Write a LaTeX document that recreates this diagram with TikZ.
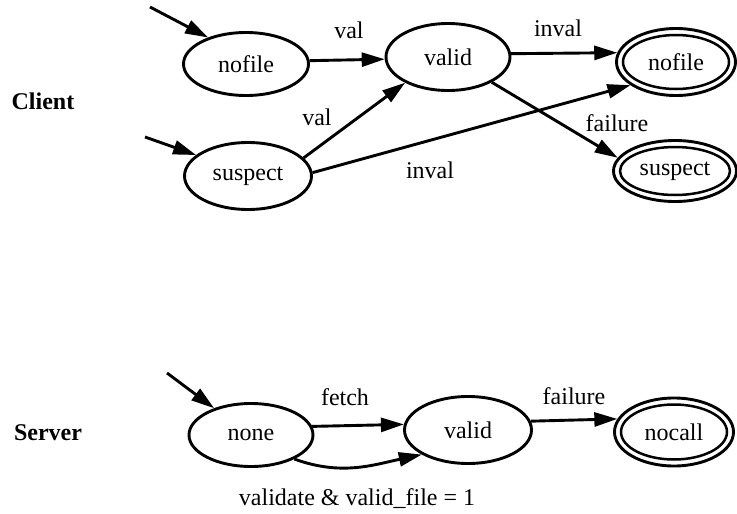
\documentclass[tikz,border=0pt]{standalone}
\usepackage{fontspec}
\setmainfont{Liberation Serif}
\usetikzlibrary{shapes.geometric,arrows.meta}
\begin{document}
\begin{tikzpicture}[x=1pt,y=1pt,
  every node/.style={font=\fontsize{24}{28}\selectfont},
  state/.style={ellipse, draw, line width=2.9pt, inner sep=0pt},
  inner/.style={ellipse, draw, line width=2.5pt, inner sep=0pt},
  lbl/.style={inner sep=0pt},
  group/.style={inner sep=0pt, font=\fontsize{24}{28}\selectfont\bfseries},
  edge/.style={line width=2.9pt, -{Triangle[length=23pt,width=14pt]}}]
\useasboundingbox (0,0) rectangle (737,-514);

% group labels
\node[group] (client) at (43,-101) {Client};
\node[group] (server) at (48,-433) {Server};

% client states
\node[state, minimum width=125pt, minimum height=63pt] (N1) at (246,-64) {nofile};
\node[state, minimum width=124pt, minimum height=67pt] (V1) at (448,-57) {valid};
\node[state, minimum width=127pt, minimum height=67pt] (S1) at (248,-176) {suspect};
\node[state, minimum width=119pt, minimum height=67pt] (F1) at (676,-62) {nofile};
\node[inner, minimum width=106pt, minimum height=54pt] (F1i) at (F1.center) {};
\node[state, minimum width=123pt, minimum height=61pt] (F2) at (675,-171) {suspect};
\node[inner, minimum width=110pt, minimum height=48pt] (F2i) at (F2.center) {};

% server states
\node[state, minimum width=124pt, minimum height=63pt] (NO) at (251,-435) {none};
\node[state, minimum width=127pt, minimum height=67pt] (V2) at (468,-430) {valid};
\node[state, minimum width=119pt, minimum height=68pt] (NC) at (674,-432) {nocall};
\node[inner, minimum width=106pt, minimum height=55pt] (NCi) at (NC.center) {};

% initial arrow starts
\coordinate (i1) at (150,-7);
\coordinate (i2) at (145,-137);
\coordinate (i3) at (167,-373);

% client connectors
\draw[edge] (i1) -- (N1.145);
\draw[edge] (i2) -- (S1.158);
\draw[edge] (N1.3.5) -- (V1.182.7);
\draw[edge] (S1.18) -- (V1.211);
\draw[edge] (S1.3.3) -- (F1.207);
\draw[edge] (V1.3.3) -- (F1.171.6);
\draw[edge] (V1.330) -- (F2.167);

% server connectors
\draw[edge] (i3) -- (NO.144.5);
\draw[edge] (NO.8.2) -- (V2.175.3);
\draw[edge] (NO.331.5) to[out=-20,in=192] (V2.208.5);
\draw[edge] (V2.8.9) -- (NC.167.5);

% edge labels
\node[lbl] (lv1) at (349,-30) {val};
\node[lbl] (lv2) at (317,-117) {val};
\node[lbl] (li1) at (558,-28) {inval};
\node[lbl] (lf1) at (617,-123) {failure};
\node[lbl] (li2) at (430,-170) {inval};
\node[lbl] (lfe) at (345,-397) {fetch};
\node[lbl] (lf2) at (574,-396) {failure};
\node[lbl] (lvd) at (357,-499) {validate \& valid\_file = 1};
\end{tikzpicture}
\end{document}
